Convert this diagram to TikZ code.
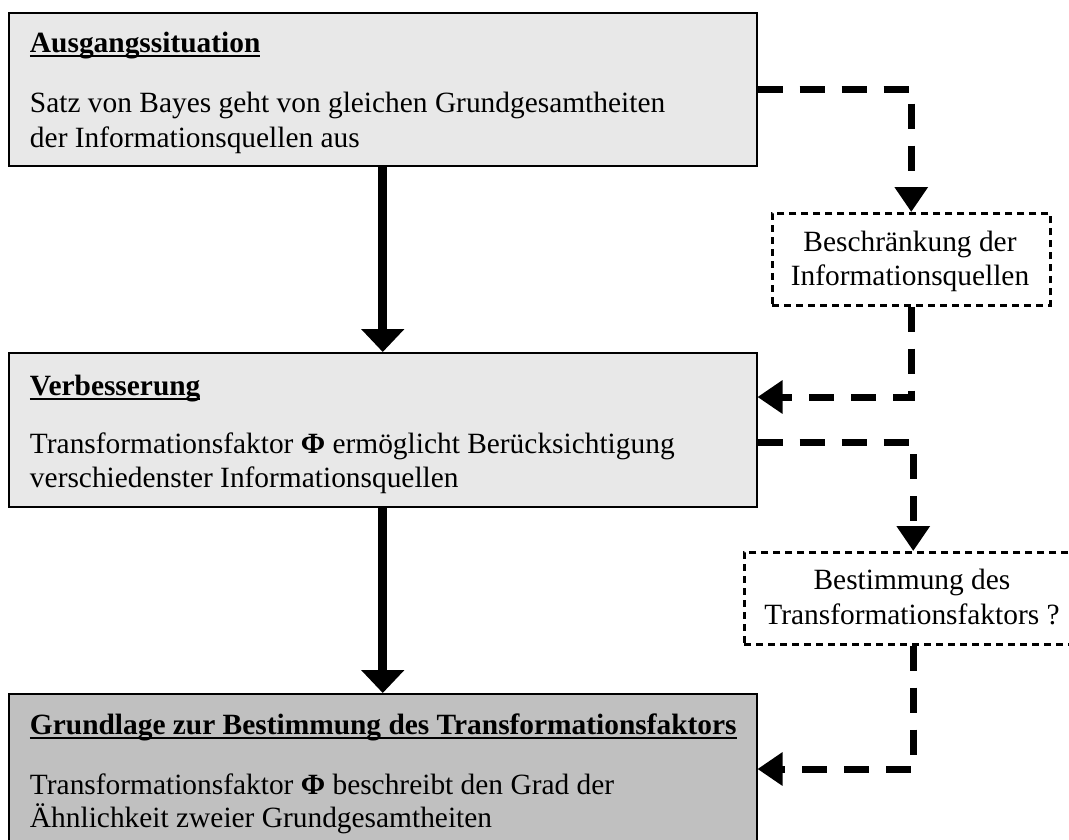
\documentclass[tikz,border=0pt]{standalone}
\usepackage{fontspec}
\setmainfont{Liberation Serif}
\usetikzlibrary{arrows.meta}

\definecolor{boxlight}{RGB}{232,232,232}
\definecolor{boxdark}{RGB}{192,192,192}

% bold heading with a heavy underline just below the baseline
\newcommand\titleul[1]{\setbox0\hbox{\bfseries #1}\rlap{\rule[-5pt]{\wd0}{2.5pt}}\copy0}

\tikzset{
  txt/.style={font=\fontsize{29.4}{34.5}\selectfont, inner sep=0pt, outer sep=0pt},
  stage/.style={draw=black, line width=1.5pt, anchor=north west,
                minimum width=748pt, inner sep=0pt},
  hint/.style={draw=black, line width=2.5pt, dash pattern=on 7pt off 5pt,
               anchor=north west, minimum height=92pt, inner sep=0pt},
  flow/.style={line width=9pt, -{Triangle[width=42pt,length=23pt]}},
  feed/.style={line width=7pt, dash pattern=on 25pt off 17pt,
               -{Triangle[width=32pt,length=25pt]}},
}

\begin{document}
\begin{tikzpicture}[x=1pt, y=-1pt]
\useasboundingbox (0,0) rectangle (1069,839);
\clip (0,0) rectangle (1069,839);

% main stages
\node[stage, fill=boxlight, minimum height=153pt] (b1) at (8,12) {};
\node[stage, fill=boxlight, minimum height=154pt] (b2) at (8,352) {};
\node[stage, fill=boxdark,  minimum height=152pt] (b3) at (8,693) {};

% side remarks
\node[hint, minimum width=278pt] (d1) at (771,212) {};
\node[hint, minimum width=338pt] (d2) at (743,551) {};

% stage texts
\node[txt, anchor=base west] (t1) at (30,52) {\titleul{Ausgangssituation}};
\node[txt, anchor=base west] (t1a) at (30,112) {Satz von Bayes geht von gleichen Grundgesamtheiten};
\node[txt, anchor=base west] (t1b) at (30,147) {der Informationsquellen aus};

\node[txt, anchor=base west] (t2) at (30,395) {\titleul{Verbesserung}};
\node[txt, anchor=base west] (t2a) at (30,453) {Transformationsfaktor {\bfseries Φ} ermöglicht Berücksichtigung};
\node[txt, anchor=base west] (t2b) at (30,487) {verschiedenster Informationsquellen};

\node[txt, anchor=base west] (t3) at (30,734) {\titleul{Grundlage zur Bestimmung des Transformationsfaktors}};
\node[txt, anchor=base west] (t3a) at (30,794) {Transformationsfaktor {\bfseries Φ} beschreibt den Grad der};
\node[txt, anchor=base west] (t3b) at (30,827) {Ähnlichkeit zweier Grundgesamtheiten};

% remark texts
\node[txt, anchor=base] (r1a) at (910,251) {Beschränkung der};
\node[txt, anchor=base] (r1b) at (910,285) {Informationsquellen};
\node[txt, anchor=base] (r2a) at (912,589) {Bestimmung des};
\node[txt, anchor=base] (r2b) at (912,624) {Transformationsfaktors ?};

% main flow
\draw[flow] (b1.south) -- (b2.north);
\draw[flow] (b2.south) -- (b3.north);

% side loops through the remarks
\draw[feed] (b1.east) -| (d1.north);
\draw[feed] (d1.south) |- ([yshift=-45pt]b2.north east);
\draw[feed] ([yshift=-90pt]b2.north east) -| (d2.north);
\draw[feed] (d2.south) |- ([yshift=-76pt]b3.north east);
\end{tikzpicture}
\end{document}
